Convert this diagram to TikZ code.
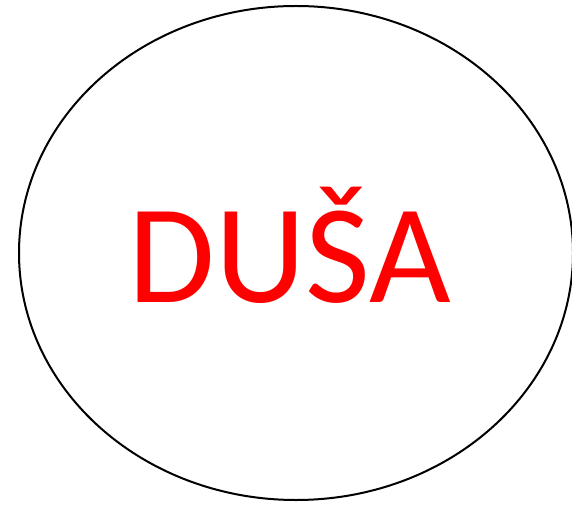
\documentclass[tikz,border=0pt]{standalone}
\usepackage{fontspec}
\setmainfont{Carlito}

\begin{document}
\begin{tikzpicture}[x=1pt,y=1pt,line cap=round,line join=round,every node/.style={inner sep=0pt}]
  \def\rx{277}
  \def\ry{247}
  \useasboundingbox (0,0) rectangle (572,504);
  \coordinate (centre) at (296,251);
  \draw[line width=2pt] (centre) ellipse ({\rx} and {\ry});
  \node[anchor=base,text=red,font=\fontsize{141}{141}\selectfont] (dusa) at (290,202) {DUŠA};
\end{tikzpicture}
\end{document}
